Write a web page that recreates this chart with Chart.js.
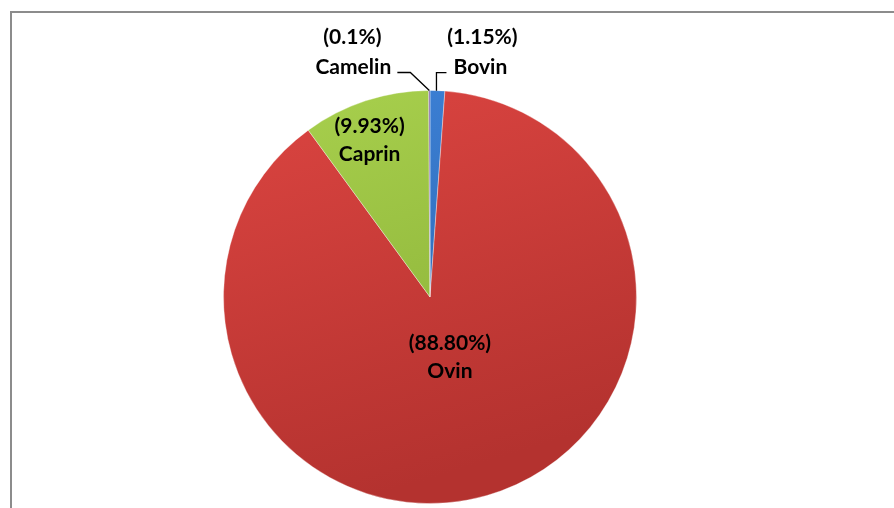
<!DOCTYPE html>
<html><head><meta charset="utf-8">
<script src="https://cdn.jsdelivr.net/npm/chart.js@4.4.1/dist/chart.umd.min.js"></script>
<style>
html,body{margin:0;padding:0;background:#fff;}
#wrap{position:relative;width:894px;height:508px;}
</style></head>
<body><div id="wrap"><canvas id="c" width="894" height="508"></canvas></div>
<script>
const categories = ["Bovin", "Ovin", "Caprin", "Camelin"];
const values = [1.15, 88.80, 9.93, 0.1];
const valueLabels = ["(1.15%)", "(88.80%)", "(9.93%)", "(0.1%)"];
const baseColors = ["#3d82d8", "#dc4541", "#a9d14e", "#7f5fa8"];
const darkColors = ["#2c64ad", "#b4322f", "#88ae35", "#5f4685"];

function grad(ctx, i) {
  const chart = ctx.chart;
  const a = chart.chartArea;
  if (!a) return baseColors[i];
  const g = chart.ctx.createLinearGradient(a.left, a.top, a.left + (a.right - a.left) * 0.3, a.bottom);
  g.addColorStop(0, baseColors[i]);
  g.addColorStop(1, darkColors[i]);
  return g;
}

const framePlugin = {
  id: 'frame',
  beforeDraw(chart) {
    const c = chart.ctx;
    c.save();
    c.strokeStyle = '#8c8c8c';
    c.lineWidth = 2;
    c.beginPath();
    c.moveTo(11, 520);
    c.lineTo(11, 12);
    c.lineTo(900, 12);
    c.stroke();
    c.restore();
  }
};

const labelPlugin = {
  id: 'labels',
  afterDatasetsDraw(chart) {
    const c = chart.ctx;
    const meta = chart.getDatasetMeta(0);
    c.save();
    c.font = 'bold 21px Lato, "Open Sans", sans-serif';
    c.fillStyle = '#000';
    c.textBaseline = 'middle';
    meta.data.forEach((arc, i) => {
      const p = arc.getProps(['x', 'y', 'startAngle', 'endAngle', 'outerRadius']);
      const mid = (p.startAngle + p.endAngle) / 2;
      const ex = p.x + Math.cos(mid) * p.outerRadius;
      const ey = p.y + Math.sin(mid) * p.outerRadius;
      if (i === 1 || i === 2) {
        const f = i === 1 ? 0.35 : 0.78;
        let lx = p.x + Math.cos(mid) * p.outerRadius * f;
        let ly = p.y + Math.sin(mid) * p.outerRadius * f;
        if (i === 1) { lx += 0; ly -= 9; }
        if (i === 2) { lx -= 10; ly -= 4; }
        c.textAlign = 'center';
        c.fillText(valueLabels[i], lx, ly - 14);
        c.fillText(categories[i], lx, ly + 14);
      } else {
        c.strokeStyle = '#000';
        c.lineWidth = 1.3;
        c.beginPath();
        if (i === 0) {
          c.moveTo(ex - 1, ey);
          c.lineTo(ex - 1, ey - 18);
          c.lineTo(ex + 9, ey - 18);
          c.stroke();
          c.textAlign = 'center';
          c.fillText(categories[i], ex + 43, ey - 23);
          c.fillText(valueLabels[i], ex + 45, ey - 53);
        } else {
          c.moveTo(ex, ey);
          c.lineTo(ex - 19, ey - 18);
          c.lineTo(ex - 32, ey - 18);
          c.stroke();
          c.textAlign = 'center';
          c.fillText(categories[i], ex - 76, ey - 23);
          c.fillText(valueLabels[i], ex - 77, ey - 53);
        }
      }
    });
    c.restore();
  }
};

new Chart(document.getElementById('c'), {
  type: 'pie',
  data: {
    labels: categories,
    datasets: [{
      data: values,
      backgroundColor: (ctx) => grad(ctx, ctx.dataIndex),
      borderColor: 'rgba(255,255,255,0.35)',
      borderWidth: 1
    }]
  },
  options: {
    responsive: false,
    animation: false,
    layout: { padding: { top: 90, bottom: 4, left: 223, right: 257 } },
    plugins: { legend: { display: false }, tooltip: { enabled: false } }
  },
  plugins: [framePlugin, labelPlugin]
});
</script></body></html>
